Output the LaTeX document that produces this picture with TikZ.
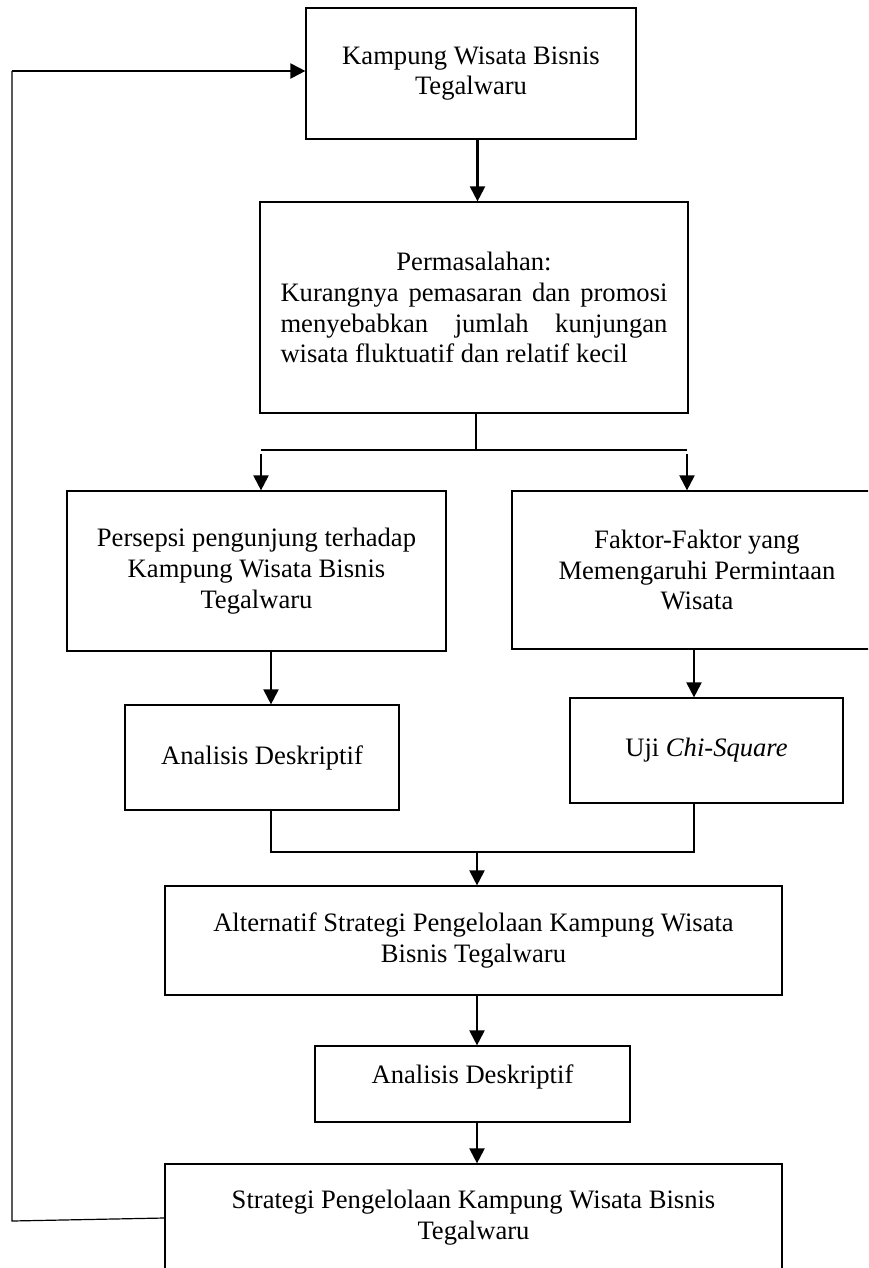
\documentclass[tikz,border=0pt]{standalone}
\usepackage{fontspec}
\setmainfont{Liberation Serif}
\usetikzlibrary{arrows.meta,calc}
\tikzset{
  box/.style={draw, line width=0.6pt, inner sep=0pt, align=center,
    font=\fontsize{13.3}{15.4}\selectfont},
  arr/.style={line width=1.05pt, -{Triangle[length=7.5pt,width=7.5pt]}},
  thinline/.style={line width=0.6pt},
}
\begin{document}
\begin{tikzpicture}[x=0.5pt,y=-0.5pt]
\clip (0,0) rectangle (868,1268);
\fill[white] (0,0) rectangle (868,1268);
% boxes
\node[box, minimum width=165pt, minimum height=65.5pt] (b1) at (471,73.5) {Kampung Wisata Bisnis\\Tegalwaru};
\node[box, minimum width=214pt, minimum height=105.5pt] (b2) at (474,307.5) {Permasalahan:\\
\makebox[193.5pt][s]{Kurangnya pemasaran dan promosi}\\
\makebox[193.5pt][s]{menyebabkan jumlah kunjungan}\\
\makebox[193.5pt][l]{wisata fluktuatif dan relatif kecil}};
\node[box, minimum width=189.5pt, minimum height=80pt] (b3) at (256.5,571) {Persepsi pengunjung terhadap\\Kampung Wisata Bisnis\\Tegalwaru};
\node[box, minimum width=185pt, minimum height=79pt] (b4) at (697,570) {Faktor-Faktor yang\\Memengaruhi Permintaan\\Wisata};
\node[box, minimum width=137pt, minimum height=52.5pt] (b5) at (262,757.5) {Analisis Deskriptif};
\node[box, minimum width=136.5pt, minimum height=52.5pt] (b6) at (706.5,750.5) {Uji \textit{Chi-Square}};
\node[box, minimum width=308.5pt, minimum height=54.5pt] (b7) at (473.5,940.5) {Alternatif Strategi Pengelolaan Kampung Wisata\\Bisnis Tegalwaru};
\node[box, minimum width=157.5pt, minimum height=38pt, text depth=9.9pt] (b8) at (472.5,1084) {Analisis Deskriptif};
\node[box, minimum width=308.5pt, minimum height=54pt] (b9) at (473.5,1218) {Strategi Pengelolaan Kampung Wisata Bisnis\\Tegalwaru};
% helper coordinates
\coordinate (axis) at (477.5,0);
\coordinate (split) at (476,450);
\coordinate (sL) at (261,450);
\coordinate (sR) at (687,450);
\coordinate (cL) at (271,0);
\coordinate (cR) at (694,0);
\coordinate (jL) at (271,852);
\coordinate (jR) at (694,852);
\coordinate (jM) at (477,852);
\coordinate (fbB) at (12,1221);
\coordinate (fbT) at (12,71);
% connectors
\draw[arr] (b1.south -| axis) -- (b2.north -| axis);
\draw[thinline] (b2.south -| split) -- (split);
\draw[thinline] (sL) -- (sR);
\draw[arr] ($(sL)+(0,4)$) -- (sL |- b3.north);
\draw[arr] ($(sR)+(0,4)$) -- (sR |- b4.north);
\draw[arr] (b3.south -| cL) -- (b5.north -| cL);
\draw[arr] (b4.south -| cR) -- (b6.north -| cR);
\draw[thinline] (b5.south -| jL) -- (jL) -- (jR) -- (b6.south -| jR);
\draw[arr] (jM) -- (jM |- b7.north);
\draw[arr] (b7.south -| jM) -- (b8.north -| jM);
\draw[arr] (b8.south -| jM) -- (b9.north -| jM);
\draw[thinline] (b9.west) -- (fbB) -- (fbT);
\draw[arr] (fbT) -- (fbT -| b1.west);
\end{tikzpicture}
\end{document}
